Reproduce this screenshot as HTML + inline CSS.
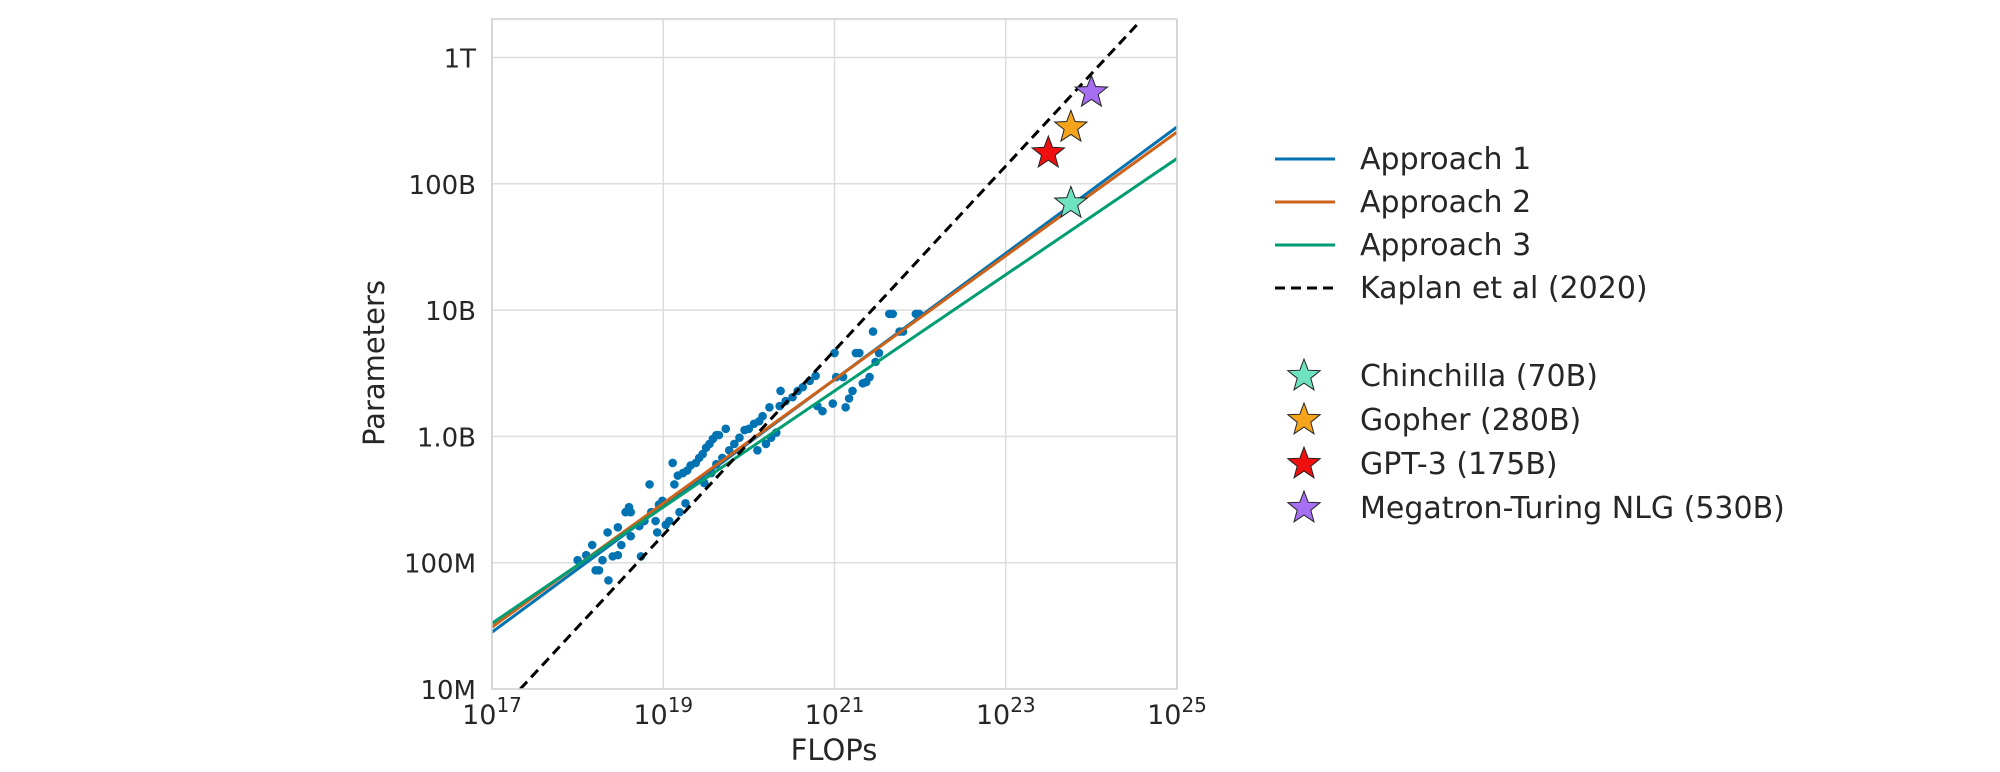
<!DOCTYPE html>
<html><head><meta charset="utf-8"><style>
html,body{margin:0;padding:0;background:#fff;}
svg{display:block;font-family:"DejaVu Sans","Liberation Sans",sans-serif;}
</style></head><body>
<svg id="chart" width="2000" height="772" viewBox="0 0 2000 772">
<defs><clipPath id="plotclip"><rect x="492" y="19" width="685" height="670"/></clipPath></defs>
<g id="grid"></g>
<g id="xticks"></g>
<g id="yticks"></g>
<g id="series" clip-path="url(#plotclip)"></g>
<rect x="492" y="19" width="685" height="670" fill="none" stroke="#cfcfcf" stroke-width="1.5"/>
<text x="0" y="0" transform="translate(384,363) rotate(-90)" text-anchor="middle" font-size="29" fill="#262626">Parameters</text>
<text x="834" y="760" text-anchor="middle" font-size="29" fill="#262626">FLOPs</text>
<g id="legend"></g>
</svg>
<script>
const NS='http://www.w3.org/2000/svg';
// data (log10 values)
const scatterLogFlops=[18.00,18.10,18.17,18.21,18.25,18.29,18.36,18.35,18.41,18.47,18.47,18.51,18.56,18.60,18.62,18.62,18.72,18.74,18.78,18.84,18.86,18.91,18.93,18.95,18.99,19.03,19.07,19.11,19.13,19.17,19.19,19.23,19.26,19.28,19.32,19.38,19.42,19.46,19.48,19.50,19.54,19.58,19.62,19.65,19.73,19.56,19.62,19.69,19.77,19.83,19.89,19.95,20.00,20.06,20.10,20.12,20.16,20.20,20.24,20.26,20.32,20.36,20.37,20.43,20.51,20.57,20.63,20.71,20.78,20.80,20.86,20.98,21.00,21.02,21.10,21.13,21.17,21.21,21.25,21.29,21.33,21.37,21.41,21.45,21.48,21.52,21.64,21.68,21.76,21.80,21.95,21.99];
const scatterLogParams=[8.02,8.06,8.14,7.94,7.94,8.02,7.86,8.24,8.05,8.06,8.28,8.14,8.40,8.44,8.40,8.21,8.29,8.05,8.33,8.62,8.40,8.33,8.24,8.46,8.49,8.30,8.33,8.79,8.62,8.69,8.40,8.71,8.47,8.73,8.77,8.79,8.83,8.86,8.63,8.91,8.94,8.98,9.01,9.01,9.06,8.71,8.78,8.83,8.89,8.94,8.99,9.05,9.06,9.10,8.89,9.12,9.16,8.94,9.23,8.99,9.03,9.24,9.36,9.28,9.31,9.36,9.39,9.44,9.48,9.24,9.20,9.26,9.66,9.47,9.47,9.23,9.30,9.36,9.66,9.66,9.42,9.43,9.47,9.83,9.59,9.66,9.97,9.97,9.83,9.83,9.97,9.97];
const lineNames=['Approach 1','Approach 2','Approach 3','Kaplan et al (2020)'];
const lineX0=[17,17,17,17.33];
const lineY0=[7.45,7.49,7.52,7.0];
const lineX1=[25,25,25,24.56];
const lineY1=[11.45,11.41,11.20,12.28];
const lineColors=['#0173b2','#cf6219','#029e73','#000'];
const modelNames=['Chinchilla (70B)','Gopher (280B)','GPT-3 (175B)','Megatron-Turing NLG (530B)'];
const modelFlops=[5.76e23,5.76e23,3.14e23,1.0e24];
const modelParams=[70e9,280e9,175e9,530e9];
const modelColors=['#6fe3c0','#f5a41c','#ee0f0f','#a66ef0'];
const xTickExps=[17,19,21,23,25];
const yTickVals=[7,8,9,10,11,12];
const yTickLabels=['10M','100M','1.0B','10B','100B','1T'];

const X0=492,X1=1177,Y0=689,Y1=19;
const xs=l=>X0+(l-17)/8*(X1-X0);
const ys=l=>Y0-(l-7)*126.3;
function el(t,a,p){const e=document.createElementNS(NS,t);for(const k in a)e.setAttribute(k,a[k]);p.appendChild(e);return e;}
const grid=document.getElementById('grid'),xt=document.getElementById('xticks'),yt=document.getElementById('yticks'),S=document.getElementById('series'),L=document.getElementById('legend');
for(let e=17;e<=25;e+=2){const g=el('line',{x1:xs(e),x2:xs(e),y1:Y1,y2:Y0,stroke:'#dcdcdc','stroke-width':1.5},grid);

}
yTickVals.forEach(v=>{if(v===7)return;const g=el('line',{x1:X0,x2:X1,y1:ys(v),y2:ys(v),stroke:'#dcdcdc','stroke-width':1.5},grid);

});
xTickExps.forEach(e=>{const t=el('text',{x:xs(e),y:724,'text-anchor':'middle','font-size':27,fill:'#262626'},xt);


t.innerHTML='10<tspan dy="-12" font-size="20">'+e+'</tspan>';});
yTickVals.forEach((v,i)=>{const t=el('text',{x:476,y:ys(v)+10,'text-anchor':'end','font-size':26,fill:'#262626'},yt);


t.textContent=yTickLabels[i];});
scatterLogFlops.forEach((f,i)=>{const c=el('circle',{cx:xs(f),cy:ys(scatterLogParams[i]),r:4.3,fill:'#0173b2'},S);

});
lineNames.forEach((n,i)=>{const l=el('line',{x1:xs(lineX0[i]),y1:ys(lineY0[i]),x2:xs(lineX1[i]),y2:ys(lineY1[i]),stroke:lineColors[i],'stroke-width':3},S);
if(i===3)l.setAttribute('stroke-dasharray','10,6');

});
function star(cx,cy,R,fill,p){let pts=[];for(let k=0;k<10;k++){const r=k%2?R*0.42:R;const a=-Math.PI/2+k*Math.PI/5;pts.push((cx+r*Math.cos(a)).toFixed(1)+','+(cy+r*Math.sin(a)).toFixed(1));}
return el('polygon',{points:pts.join(' '),fill:fill,stroke:'#222','stroke-width':1},p);}
const svg=document.getElementById('chart');
const stars=el('g',{},svg);


modelNames.forEach((n,i)=>{const s=star(xs(Math.log10(modelFlops[i])),ys(Math.log10(modelParams[i])),17,modelColors[i],stars);

});
const legY=[159,202,245,288];
lineNames.forEach((n,i)=>{const g=el('g',{},L);


const l=el('line',{x1:1275,x2:1335,y1:legY[i],y2:legY[i],stroke:lineColors[i],'stroke-width':3},g);
if(i===3)l.setAttribute('stroke-dasharray','10,6');
const t=el('text',{x:1360,y:legY[i]+10,'font-size':30,fill:'#262626'},g);t.textContent=n;});
const starY=[376,420,464,508];
modelNames.forEach((n,i)=>{const g=el('g',{},L);


star(1304,starY[i],17,modelColors[i],g);
const t=el('text',{x:1360,y:starY[i]+10,'font-size':30,fill:'#262626'},g);t.textContent=n;});
</script>
</body></html>
